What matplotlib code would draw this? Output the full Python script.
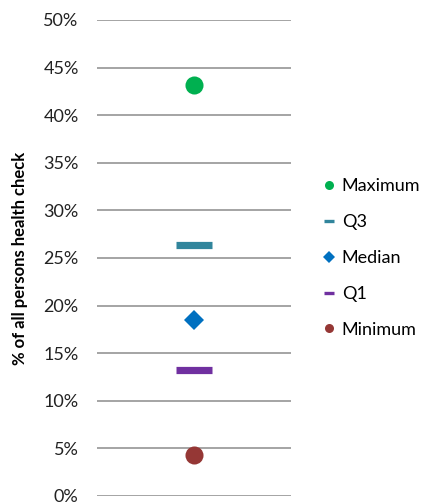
import matplotlib
matplotlib.use("Agg")
import matplotlib.pyplot as plt
from matplotlib.lines import Line2D
from matplotlib.ticker import PercentFormatter

plt.rcParams['font.family'] = ['Lato', 'DejaVu Sans']

stats = ["Maximum", "Q3", "Median", "Q1", "Minimum"]
values = [43.2, 26.4, 18.5, 13.2, 4.3]
colors = ["#00B050", "#31859C", "#0070C0", "#7030A0", "#953735"]
yticks = [0, 5, 10, 15, 20, 25, 30, 35, 40, 45, 50]

markers = {"Maximum": "o", "Q3": "_", "Median": "D", "Q1": "_", "Minimum": "o"}
sizes = {"Maximum": 13, "Q3": 26, "Median": 10, "Q1": 26, "Minimum": 13}
mews = {"Maximum": 0, "Q3": 5.2, "Median": 0, "Q1": 5.2, "Minimum": 0}
leg_sizes = {"Maximum": 6.5, "Q3": 7, "Median": 6.5, "Q1": 7, "Minimum": 6.5}
leg_mews = {"Maximum": 0, "Q3": 2.4, "Median": 0, "Q1": 2.4, "Minimum": 0}

fig = plt.figure(figsize=(4.21, 5.04), dpi=100)
ax = fig.add_axes([96.7/421, 1-496/504, (290.7-96.7)/421, (496-20)/504])

for s, v, c in zip(stats, values, colors):
    ax.plot([0], [v], linestyle='none', marker=markers[s], markersize=sizes[s],
            color=c, markeredgecolor=c, markeredgewidth=mews[s], zorder=3)

ax.set_xlim(-1, 1)
ax.set_ylim(0, 50)
ax.set_yticks(yticks)
ax.yaxis.set_major_formatter(PercentFormatter(decimals=0))
ax.set_xticks([])
ax.grid(axis='y', color='#8c8c8c', linewidth=1.1)
ax.set_axisbelow(True)
for sp in ax.spines.values():
    sp.set_visible(False)
ax.tick_params(axis='y', length=0, pad=13, labelsize=13, labelcolor='#222222')
ax.set_ylabel("% of all persons health check", fontsize=12, fontweight='bold')
ax.yaxis.set_label_coords(-0.355, 0.5)

handles = [Line2D([0], [0], linestyle='none', marker=markers[s], markersize=leg_sizes[s],
                  color=c, markeredgecolor=c, markeredgewidth=leg_mews[s])
           for s, c in zip(stats, colors)]
fig.legend(handles, stats, loc='center left', bbox_to_anchor=(322/421, 1-258/504),
           frameon=False, fontsize=13, handlelength=0.8, handletextpad=0.3,
           labelspacing=1.1, borderaxespad=0, borderpad=0)

fig.savefig("out.png", dpi=100)
